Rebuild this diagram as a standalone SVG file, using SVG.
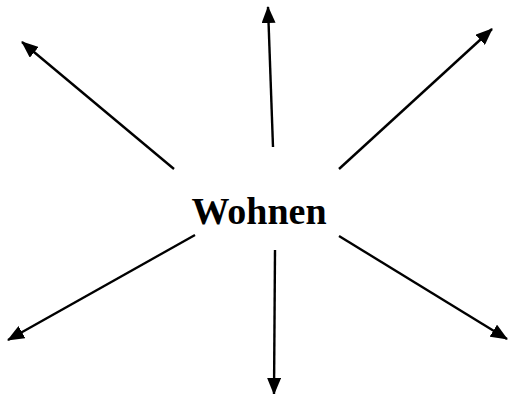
<svg xmlns="http://www.w3.org/2000/svg" width="508" height="394" viewBox="0 0 508 394">
<defs>
<style>
.c line{stroke:#000;stroke-width:2.4;marker-end:url(#ah)}
.lbl{font-family:"Liberation Serif","Times New Roman",serif;font-weight:bold;font-size:38px;fill:#000}
</style>
<marker id="ah" viewBox="0 0 17 14" refX="16" refY="7" markerWidth="17" markerHeight="14" markerUnits="userSpaceOnUse" orient="auto">
<path d="M0,0 L17,7 L0,14 Z" fill="#000"/>
</marker>
</defs>
<rect width="508" height="394" fill="#fff"/>
<g id="center">
<text class="lbl" x="259" y="224" text-anchor="middle">Wohnen</text>
</g>
<g id="connectors" class="c">
<line x1="174" y1="169" x2="22" y2="42"/>
<line x1="273" y1="147" x2="268" y2="7"/>
<line x1="339" y1="169" x2="492" y2="29"/>
<line x1="195" y1="235" x2="8" y2="340"/>
<line x1="275" y1="250" x2="274" y2="394"/>
<line x1="339" y1="236" x2="507" y2="339"/>
</g>
</svg>
